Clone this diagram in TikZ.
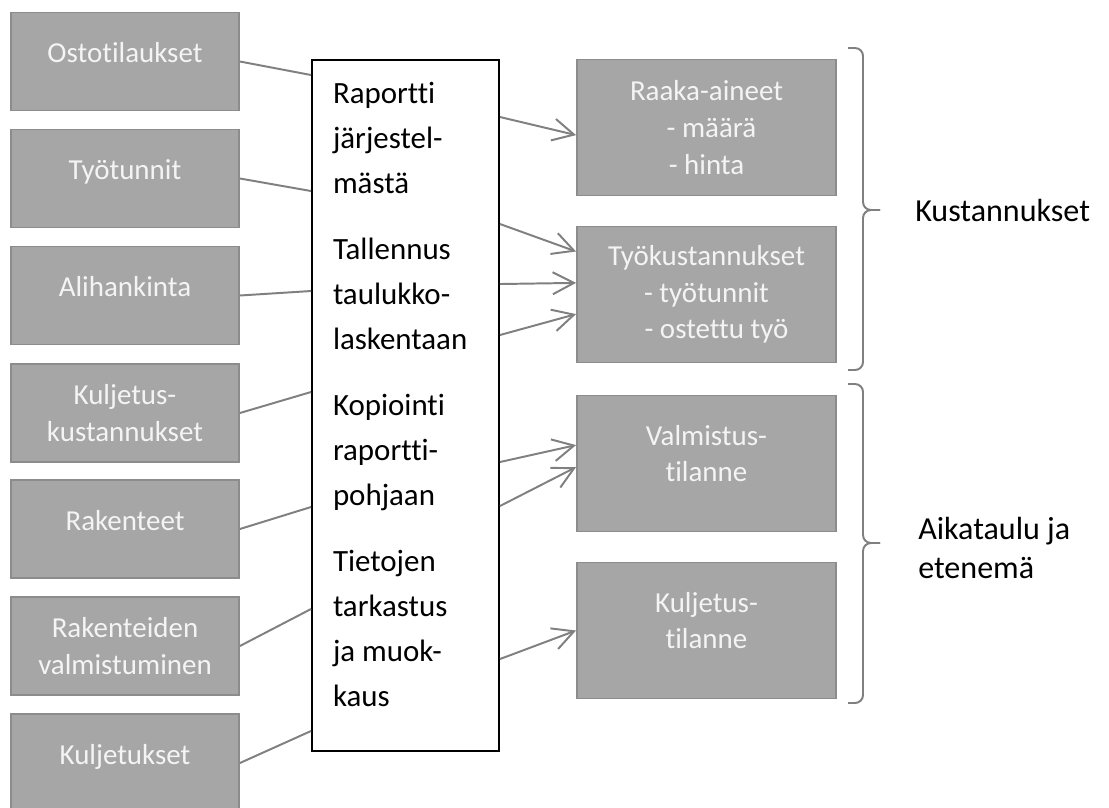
\documentclass[tikz,border=0pt]{standalone}
\usepackage{fontspec}
\setmainfont{Carlito}[Ligatures={TeX,NoCommon}]
\usetikzlibrary{arrows.meta,positioning}
\definecolor{boxgray}{HTML}{A6A6A6}
\definecolor{boxedge}{HTML}{8C8C8C}
\definecolor{boxtext}{HTML}{F4F4F4}
\definecolor{linegray}{HTML}{808080}
\newcommand{\padlow}[1]{\rule[-#1]{0pt}{#1}}

\begin{document}
\begin{tikzpicture}[
  srcbox/.style={draw=boxedge,fill=boxgray,line width=1.3pt,minimum width=5.7cm,
    minimum height=2.45cm,align=center,text=boxtext,inner sep=2pt,
    font=\fontsize{20.6}{26}\selectfont},
  resbox/.style={srcbox,minimum width=6.475cm,minimum height=3.4cm},
  link/.style={line width=1.4pt,draw=linegray},
  flow/.style={link,-{Straight Barb[length=5.3mm,width=5.5mm]}},
  brace/.style={line width=1.4pt,draw=linegray,rounded corners=0.2cm}]
\useasboundingbox (0,0) rectangle (27.725,-20.2);

% lahteet
\node[srcbox] (ostot) at (3.125,-1.5375) {Ostotilaukset\padlow{0.45cm}};
\node[srcbox] (tyot) at (3.125,-4.4625) {Työtunnit\padlow{0.45cm}};
\node[srcbox] (aliha) at (3.125,-7.3875) {Alihankinta\padlow{0.45cm}};
\node[srcbox] (kulkust) at (3.125,-10.325) {Kuljetus-\\kustannukset};
\node[srcbox] (raken) at (3.125,-13.225) {Rakenteet\padlow{0.45cm}};
\node[srcbox] (rakvalm) at (3.125,-16.15) {Rakenteiden\\valmistuminen};
\node[srcbox] (kulj) at (3.125,-19.075) {Kuljetukset\padlow{0.45cm}};

% tyovaiheet
\node[draw=black,fill=white,line width=1.4pt,minimum width=4.675cm,
  minimum height=17.275cm,text width=3.625cm,inner xsep=0.525cm,align=flush left,
  font=\fontsize{22}{32}\selectfont] (report) at (10.1375,-10.1375)
  {Raportti\\järjestel-\\mästä\\[0.525cm]
   Tallennus\\taulukko-\\laskentaan\\[0.525cm]
   Kopiointi\\raportti-\\pohjaan\\[0.525cm]
   Tietojen\\tarkastus\\ja muok-\\kaus\padlow{0.55cm}};

% tulokset
\node[resbox] (raaka) at (17.6625,-3.1875)
  {Raaka-aineet\\\hspace*{0.25cm}- määrä\\- hinta};
\node[resbox] (tyokust) at (17.6625,-7.3625)
  {Työkustannukset\\- työtunnit\\\hspace*{0.5cm}- ostettu työ};
\node[resbox] (valm) at (17.6625,-11.5875) {Valmistus-\\tilanne\padlow{0.5cm}};
\node[resbox] (kultil) at (17.6625,-15.7625) {Kuljetus-\\tilanne\padlow{0.5cm}};

\draw[link] (ostot.east) -- ([yshift=-0.4cm]report.north west);
\draw[link] (tyot.east) -- ([yshift=-3.3cm]report.north west);
\draw[link] (aliha.east) -- ([yshift=-5.8cm]report.north west);
\draw[link] (kulkust.east) -- ([yshift=-8.325cm]report.north west);
\draw[link] (raken.east) -- ([yshift=-11.2cm]report.north west);
\draw[link] (rakvalm.east) -- ([yshift=-13.75cm]report.north west);
\draw[link] (kulj.east) -- ([yshift=-16.8cm]report.north west);

\draw[flow] ([yshift=-1.45cm]report.north east) -- ([yshift=-0.19cm]raaka.west);
\draw[flow] ([yshift=-4.125cm]report.north east) -- ([yshift=1.075cm]tyokust.west);
\draw[flow] ([yshift=-5.625cm]report.north east) -- ([yshift=0.29cm]tyokust.west);
\draw[flow] ([yshift=-6.9cm]report.north east) -- ([yshift=-0.49cm]tyokust.west);
\draw[flow] ([yshift=-10.075cm]report.north east) -- ([yshift=0.46cm]valm.west);
\draw[flow] ([yshift=-11.175cm]report.north east) -- ([yshift=-0.09cm]valm.west);
\draw[flow] ([yshift=-15cm]report.north east) -- (kultil.west);

% aaltosulkeet
\draw[brace] (21.2,-1.2) -| (21.575,-5.25) -- (22.0,-5.25);
\draw[brace] (21.2,-9.25) -| (21.575,-5.25) -- (22.0,-5.25);
\draw[brace] (21.2,-9.6) -| (21.575,-13.575) -- (22.0,-13.575);
\draw[brace] (21.2,-17.575) -| (21.575,-13.575) -- (22.0,-13.575);

\node[anchor=west,inner sep=0pt,font=\fontsize{22.8}{27.7}\selectfont] (kust)
  at (22.875,-5.25) {Kustannukset};
\node[anchor=west,inner sep=0pt,align=left,font=\fontsize{22.8}{27.7}\selectfont] (aikat)
  at (22.95,-13.69) {Aikataulu ja\\etenemä};
\end{tikzpicture}
\end{document}
